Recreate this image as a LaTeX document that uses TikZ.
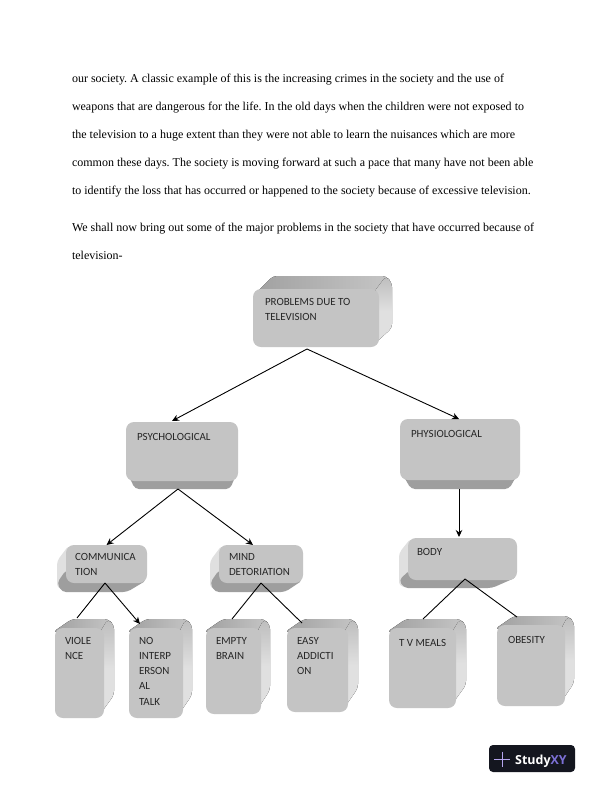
\documentclass[tikz,border=0pt]{standalone}
\usepackage{fontspec}
\setmainfont{Liberation Serif}
\newfontfamily\boxfont{Carlito}
\newfontfamily\logofont{Open Sans}
\usetikzlibrary{calc,arrows.meta}
\definecolor{frontc}{HTML}{C4C4C4}
\definecolor{topc}{HTML}{A0A0A0}
\definecolor{topl}{HTML}{C6C6C6}
\definecolor{botc}{HTML}{9E9E9E}
\definecolor{sidec}{HTML}{E0E0E0}
\definecolor{sidetop}{HTML}{BDBDBD}
\definecolor{logoc}{HTML}{14161F}
\definecolor{xyc}{HTML}{7C70D6}
\definecolor{plusc}{HTML}{B6A6F0}
\tikzset{
  front/.style={fill=frontc,rounded corners=8pt,inner sep=0pt,outer sep=0pt},
  topface/.style={left color=topc,middle color=topc,right color=topl,rounded corners=4pt},
  botface/.style={fill=botc,rounded corners=4pt},
  leftface/.style={fill=sidec,rounded corners=4pt},
  rightface/.style={top color=sidetop,bottom color=sidec,middle color=sidec,rounded corners=4pt},
  lbl/.style={anchor=north west,yshift=8pt,inner sep=0pt,outer sep=0pt,align=left,text=black!85,
    font=\boxfont\fontsize{11}{15.3}\selectfont,execute at begin node={\rule{0pt}{8pt}}},
  para/.style={anchor=base west,inner sep=0pt,outer sep=0pt,font=\fontsize{12.05}{14}\selectfont\frenchspacing},
  link/.style={draw=black,line width=0.9pt},
  arrowlink/.style={link,-{Stealth[length=7pt,width=6.5pt]}}
}
\newcommand{\frontbox}[5]{\node[front,minimum width={(#4-#2)*1bp},minimum height={(#5-#3)*1bp}] (#1) at ({(#2+#4)/2},{(#3+#5)/2}) {};}
\begin{document}
\begin{tikzpicture}[x=1bp,y=-1bp]
\useasboundingbox (0,0) rectangle (612,792);
\fill[white] (0,0) rectangle (612,792);
% body text
\node[para] (l1) at (72,82) {our society. A classic example of this is the increasing crimes in the society and the use of};
\node[para] (l2) at (72,110) {weapons that are dangerous for the life. In the old days when the children were not exposed to};
\node[para] (l3) at (72,138) {the television to a huge extent than they were not able to learn the nuisances which are more};
\node[para] (l4) at (72,166) {common these days. The society is moving forward at such a pace that many have not been able};
\node[para] (l5) at (72,194) {to identify the loss that has occurred or happened to the society because of excessive television.};
\node[para] (l6) at (72,231) {We shall now bring out some of the major problems in the society that have occurred because of};
\node[para] (l7) at (72,259) {television-};
% top box
\fill[topface] (252,297) -- (273,276) -- (386,276) -- (392,283) -- (379,297) -- cycle;
\fill[rightface] (374,292) -- (386,276) -- (392,283) -- (392,328) -- (372,346) -- cycle;
\frontbox{top}{253}{289}{379}{347}
\node[lbl] (topt) at (265,306) {PROBLEMS DUE TO\\TELEVISION};
% psychological
\fill[botface] (126,470) -- (135,489) -- (230,489) -- (238,470) -- cycle;
\frontbox{psy}{126}{422}{238}{481}
\node[lbl] (psyt) at (137,440) {PSYCHOLOGICAL};
% physiological
\fill[botface] (400,470) -- (411,489) -- (509,489) -- (520,470) -- cycle;
\frontbox{phy}{400}{419}{520}{480}
\node[lbl] (phyt) at (411,437) {PHYSIOLOGICAL};
% body
\fill[leftface] (411,538) -- (399,553) -- (399,586) -- (412,588) -- (412,560) -- cycle;
\fill[botface] (399,580) -- (404,588) -- (492,588) -- (517,577) -- (500,570) -- (410,570) -- cycle;
\frontbox{body}{408}{538}{517}{580}
\node[lbl] (bodyt) at (417,555) {BODY};
% communication
\fill[leftface] (69,545) -- (57,561) -- (57,588) -- (70,590) -- (70,560) -- cycle;
\fill[botface] (57,583) -- (62,592) -- (127,592) -- (147,580) -- (130,570) -- (66,570) -- cycle;
\frontbox{comm}{66}{545}{147}{583}
\node[lbl] (commt) at (75,561) {COMMUNICA\\TION};
% mind
\fill[leftface] (222,545) -- (210,561) -- (210,588) -- (223,590) -- (223,560) -- cycle;
\fill[botface] (210,583) -- (215,592) -- (285,592) -- (303,580) -- (285,570) -- (219,570) -- cycle;
\frontbox{mind}{219}{545}{303}{583}
\node[lbl] (mindt) at (229,561) {MIND\\DETORIATION};
% violence
\fill[topface] (53,632) -- (72,619) -- (108,619) -- (114,625) -- (104,636) -- cycle;
\fill[rightface] (100,632) -- (108,619) -- (114,625) -- (114,695) -- (98,717) -- cycle;
\frontbox{vio}{55}{628}{104}{718}
\node[lbl] (viot) at (65,645) {VIOLE\\NCE};
% no interpersonal
\fill[topface] (127,632) -- (146,619) -- (186,619) -- (192,625) -- (183,636) -- cycle;
\fill[rightface] (179,632) -- (186,619) -- (192,625) -- (192,695) -- (177,717) -- cycle;
\frontbox{noint}{129}{628}{183}{718}
\node[lbl] (nointt) at (139,645) {NO\\INTERP\\ERSON\\AL\\TALK};
% empty brain
\fill[topface] (204,632) -- (223,619) -- (264,619) -- (270,625) -- (261,636) -- cycle;
\fill[rightface] (257,632) -- (264,619) -- (270,625) -- (270,690) -- (255,713) -- cycle;
\frontbox{empty}{206}{628}{261}{714}
\node[lbl] (emptyt) at (216,645) {EMPTY\\BRAIN};
% easy addiction
\fill[topface] (285,632) -- (304,619) -- (352,619) -- (358,625) -- (348,636) -- cycle;
\fill[rightface] (344,632) -- (352,619) -- (358,625) -- (358,688) -- (342,711) -- cycle;
\frontbox{easy}{287}{628}{348}{712}
\node[lbl] (easyt) at (297,645) {EASY\\ADDICTI\\ON};
% tv meals
\fill[topface] (387,632) -- (406,619) -- (460,619) -- (466,625) -- (456,636) -- cycle;
\fill[rightface] (452,632) -- (460,619) -- (466,625) -- (466,685) -- (450,707) -- cycle;
\frontbox{tv}{389}{628}{456}{708}
\node[lbl] (tvt) at (399,646) {T V MEALS};
% obesity
\fill[topface] (495,629) -- (514,616) -- (568,616) -- (574,622) -- (565,633) -- cycle;
\fill[rightface] (561,629) -- (568,616) -- (574,622) -- (574,683) -- (559,705) -- cycle;
\frontbox{obes}{497}{625}{565}{706}
\node[lbl] (obest) at (508,643) {OBESITY};
% connectors
\draw[arrowlink] ($(top.south)+(-9,2)$) -- ($(psy.north)+(-10,-1)$);
\draw[arrowlink] ($(top.south)+(-9,2)$) -- ($(phy.north)+(-1,0)$);
\draw[arrowlink] ($(psy.south)+(-4,8)$) -- ($(comm.north)+(0,0)$);
\draw[arrowlink] ($(psy.south)+(-4,8)$) -- ($(mind.north)+(-8,0)$);
\draw[arrowlink] ($(phy.south)+(-1,9)$) -- ($(body.north)+(-3.5,-1)$);
\draw[link] ($(comm.south)+(-1.5,0)$) -- ($(vio.north)+(-2.5,-10)$);
\draw[arrowlink] ($(comm.south)+(-1.5,0)$) -- ($(noint.north)+(-16,-4)$);
\draw[link] (mind.south) -- ($(empty.north)+(-1.5,-9)$);
\draw[link] (mind.south) -- ($(easy.north)+(-15.5,-5)$);
\draw[link] ($(body.south)+(2.5,-1)$) -- ($(tv.north)+(0.5,-9)$);
\draw[link] ($(body.south)+(2.5,-1)$) -- ($(obes.north)+(-14,-8)$);
% logo
\node[fill=logoc,rounded corners=4pt,minimum width=86bp,minimum height=27bp,inner sep=0pt] (logo) at (532,758.5) {};
\draw[plusc,line width=0.9pt] ($(logo.center)+(-38,0.5)$) -- ($(logo.center)+(-22,0.5)$);
\draw[plusc,line width=0.9pt] ($(logo.center)+(-30,-7)$) -- ($(logo.center)+(-30,8)$);
\node[anchor=base west,inner sep=0pt,font=\logofont\bfseries\fontsize{12.5}{14}\selectfont,text=white] (logot) at (515,764) {Study\textcolor{xyc}{XY}};
\end{tikzpicture}
\end{document}
